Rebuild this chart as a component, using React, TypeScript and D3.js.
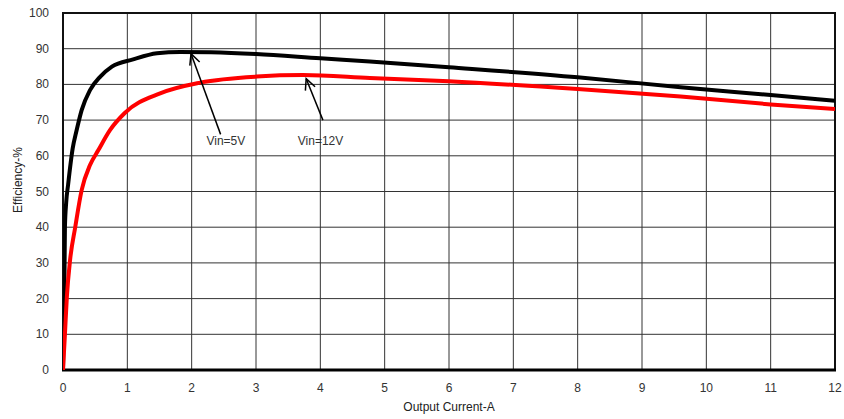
import * as d3 from 'd3';

// Vin=5V (black) curve
const vin5Current = [0, 0.01, 0.02, 0.03, 0.05, 0.08, 0.15, 0.21, 0.29, 0.42, 0.58, 0.76, 1.09, 1.46, 1.82, 2.3, 3.0, 4.0, 4.77, 6.0, 8.0, 9.6, 11.0, 12.0];
const vin5Eff = [0, 12, 20, 40, 47, 52, 62, 67, 72.8, 78.4, 82.2, 85, 87, 88.7, 89.1, 89.0, 88.5, 87.3, 86.4, 84.8, 82, 79.2, 77, 75.4];

// Vin=12V (red) curve
const vin12Current = [0, 0.03, 0.06, 0.11, 0.19, 0.29, 0.42, 0.55, 0.73, 0.96, 1.51, 2.13, 3.01, 3.73, 4.77, 6.0, 8.0, 9.6, 11.0, 12.0];
const vin12Eff = [0, 10, 20.5, 30.8, 40, 50.4, 57.4, 61.6, 67.2, 72, 77.5, 80.5, 82.2, 82.6, 81.8, 80.9, 78.7, 76.6, 74.4, 73.1];

const xTicks = [0, 1, 2, 3, 4, 5, 6, 7, 8, 9, 10, 11, 12];
const yTicks = [0, 10, 20, 30, 40, 50, 60, 70, 80, 90, 100];

// annotations: label, arrow tail and tip in data units
const notes = [
  { label: 'Vin=5V', tail: [2.45, 66], tip: [1.99, 88.6], text: [2.23, 63] },
  { label: 'Vin=12V', tail: [4.04, 70], tip: [3.78, 81.6], text: [3.65, 63] },
];

export default function App() {
  const width = 844;
  const height = 419;
  const margin = { top: 13, right: 9, bottom: 49, left: 63 };
  const innerW = width - margin.left - margin.right;
  const innerH = height - margin.top - margin.bottom;

  const x = d3.scaleLinear().domain([0, 12]).range([0, innerW]);
  const y = d3.scaleLinear().domain([0, 100]).range([innerH, 0]);

  const line = d3
    .line<[number, number]>()
    .x((d) => x(d[0]))
    .y((d) => y(d[1]))
    .curve(d3.curveMonotoneX);

  const black = vin5Current.map((c, i) => [c, vin5Eff[i]] as [number, number]);
  const red = vin12Current.map((c, i) => [c, vin12Eff[i]] as [number, number]);

  const font = 'Liberation Sans, Arial, sans-serif';

  return (
    <svg
      width={width}
      height={height}
      style={{ position: 'absolute', left: 0, top: 0, background: '#fff' }}
      fontFamily={font}
    >
      <g transform={`translate(${margin.left},${margin.top})`}>
        <defs>
          <clipPath id="plot">
            <rect x={0} y={0} width={innerW} height={innerH} />
          </clipPath>
        </defs>
        {yTicks.map((t) => (
          <g key={`y${t}`}>
            <line x1={0} x2={innerW} y1={y(t)} y2={y(t)} stroke="#333" strokeWidth={1} />
            <text x={-14} y={y(t) + 4} textAnchor="end" fontSize={12} fill="#333">
              {t}
            </text>
          </g>
        ))}
        {xTicks.map((t) => (
          <g key={`x${t}`}>
            <line x1={x(t)} x2={x(t)} y1={0} y2={innerH} stroke="#333" strokeWidth={1} />
            <text x={x(t)} y={innerH + 22} textAnchor="middle" fontSize={12} fill="#333">
              {t}
            </text>
          </g>
        ))}
        <rect x={0} y={0} width={innerW} height={innerH} fill="none" stroke="#111" strokeWidth={2} />
        <line x1={-1} x2={innerW + 1} y1={innerH} y2={innerH} stroke="#000" strokeWidth={3} />

        <g clipPath="url(#plot)">
          <path d={line(black) ?? ''} fill="none" stroke="#000" strokeWidth={4} strokeLinejoin="round" />
          <path d={line(red) ?? ''} fill="none" stroke="#ff0000" strokeWidth={4} strokeLinejoin="round" />
        </g>

        {notes.map((n) => {
          const x1 = x(n.tail[0]);
          const y1 = y(n.tail[1]);
          const x2 = x(n.tip[0]);
          const y2 = y(n.tip[1]);
          const ang = Math.atan2(y2 - y1, x2 - x1);
          const len = 12;
          const spread = 0.45;
          const a1 = ang + Math.PI - spread;
          const a2 = ang + Math.PI + spread;
          return (
            <g key={n.label}>
              <line x1={x1} y1={y1} x2={x2} y2={y2} stroke="#000" strokeWidth={1.5} />
              <polyline
                points={`${x2 + len * Math.cos(a1)},${y2 + len * Math.sin(a1)} ${x2},${y2} ${x2 + len * Math.cos(a2)},${y2 + len * Math.sin(a2)}`}
                fill="none"
                stroke="#000"
                strokeWidth={1.5}
              />
              <text x={x(n.text[0])} y={y(n.text[1])} fontSize={12} fill="#333">
                {n.label}
              </text>
            </g>
          );
        })}
      </g>
      <text x={449} y={411} textAnchor="middle" fontSize={12} fill="#222">
        Output Current-A
      </text>
      <text
        transform={`translate(22,180) rotate(-90)`}
        textAnchor="middle"
        fontSize={12}
        fill="#222"
      >
        Efficiency-%
      </text>
    </svg>
  );
}
